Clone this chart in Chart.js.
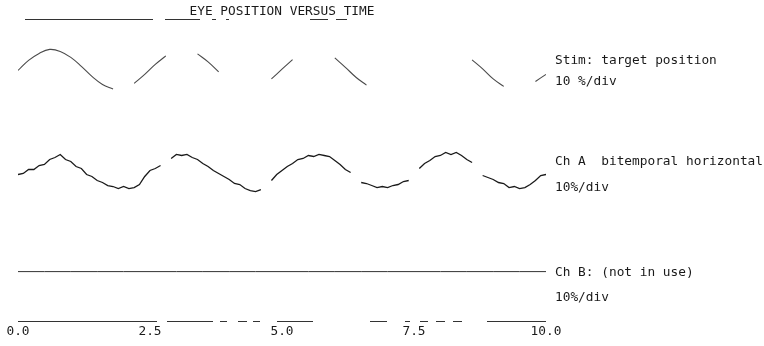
<!DOCTYPE html>
<html lang="en">
<head>
<meta charset="UTF-8">
<title>Eye position versus time</title>
<script src="https://cdn.jsdelivr.net/npm/chart.js@4"></script>
<style>
  html, body { margin: 0; padding: 0; background: #fff; }
  .wrap { width: 764px; height: 346px; position: relative; }
</style>
</head>
<body>
<div class="wrap"><canvas id="grafico"></canvas></div>
<script>
  // sampling interval of each trace (s)
  const stimStep = 0.2;
  const chAStep = 0.1;
  const chBStep = 0.5;

  // Stim: target position (deg), null = faded out on the print
  const stimValues = [
    -1, 9, 16, 20, 18, 12, 3, -7, -15, -19.5,
    null, -14, -5, 5, 13.5, null, null, 15.5, 7.5, -2.4,
    null, null, null, null, -9.5, 0.2, 9.8, null, null, null,
    11.5, 2.1, -7.8, -15.7, null, null, null, null, null, null,
    null, null, null, 9.5, 0.5, -9.5, -17, null, null, -12,
    -5
  ];

  // Ch A bitemporal horizontal (deg)
  const chAValues = [
    -3, -2, 2, 2, 6, 7, 12, 14, 17, 12,
    10, 5, 3, -3, -5, -9, -11, -14, -15, -17,
    -15, -17, -16, -13, -5, 1, 3, 6, null, 13,
    17, 16, 17, 14, 12, 8, 5, 1, -2, -5,
    -8, -12, -13, -17, -19, -20, -18, null, -9, -3,
    1, 5, 8, 12, 13, 16, 15, 17, 16, 15,
    11, 7, 2, -1, null, -11, -12, -14, -16, -15,
    -16, -14, -13, -10, -9, null, 3, 8, 11, 15,
    16, 19, 17, 19, 16, 12, 9, null, -4, -6,
    -8, -11, -12, -16, -15, -17, -16, -13, -9, -4,
    -3
  ];

  // Ch B (not in use)
  const chBValues = [0, 0, 0, 0, 0, 0, 0, 0, 0, 0, 0, 0, 0, 0, 0, 0, 0, 0, 0, 0, 0];

  const xTicks = [0, 2.5, 5, 7.5, 10];
  const xTickLabels = ['0.0', '2.5', '5.0', '7.5', '10.0'];
  const traceNames = ['Stim: target position', 'Ch A  bitemporal horizontal', 'Ch B: (not in use)'];
  const traceScales = ['10 %/div', '10%/div', '10%/div'];

  // vertical place of each trace on the page
  const traceOffsets = [202, 100, 0];
  const nameShift = [-9, -10, 1];
  const scaleShift = [12, 16, 26];

  const fuente = { family: 'DejaVu Sans Mono', size: 12.8, weight: 'normal' };
  const tinta = '#1a1a1a';

  function puntos(values, step, offset) {
    return values.map((v, i) => ({ x: +(i * step).toFixed(2), y: v === null ? null : v + offset }));
  }

  // right-hand channel captions
  const etiquetas = {
    id: 'etiquetas',
    afterDraw(chart) {
      const ctx = chart.ctx;
      const y = chart.scales.y;
      const x0 = chart.chartArea.right + 9;
      ctx.save();
      ctx.font = `${fuente.size}px "${fuente.family}"`;
      ctx.fillStyle = tinta;
      ctx.textBaseline = 'middle';
      ctx.textAlign = 'left';
      traceNames.forEach((name, i) => {
        const base = y.getPixelForValue(traceOffsets[i]);
        ctx.fillText(name, x0, base + nameShift[i]);
        ctx.fillText(traceScales[i], x0, base + scaleShift[i]);
      });
      ctx.restore();
    }
  };

  // broken top / bottom rules of the printout
  const reglas = {
    id: 'reglas',
    afterDraw(chart, args, opts) {
      const { ctx, chartArea } = chart;
      ctx.save();
      ctx.strokeStyle = opts.color;
      ctx.lineWidth = 1;
      [[chartArea.top, opts.topDash, opts.topOffset], [chartArea.bottom, opts.bottomDash, 0]].forEach(([yy, dash, off]) => {
        const py = Math.round(yy) + 0.5;
        ctx.setLineDash(dash);
        ctx.lineDashOffset = off;
        ctx.beginPath();
        ctx.moveTo(chartArea.left, py);
        ctx.lineTo(chartArea.right, py);
        ctx.stroke();
      });
      ctx.restore();
    }
  };

  new Chart(document.getElementById('grafico'), {
    type: 'line',
    data: {
      datasets: [
        {
          label: traceNames[0],
          data: puntos(stimValues, stimStep, traceOffsets[0]),
          borderColor: '#4a4a4a',
          borderWidth: 1.1,
          tension: 0.4,
          pointRadius: 0,
          spanGaps: false
        },
        {
          label: traceNames[1],
          data: puntos(chAValues, chAStep, traceOffsets[1]),
          borderColor: '#1a1a1a',
          borderWidth: 1.3,
          tension: 0,
          pointRadius: 0,
          spanGaps: false
        },
        {
          label: traceNames[2],
          data: puntos(chBValues, chBStep, traceOffsets[2]),
          borderColor: '#333',
          borderWidth: 1,
          tension: 0,
          pointRadius: 0
        }
      ]
    },
    options: {
      responsive: true,
      maintainAspectRatio: false,
      animation: false,
      layout: { padding: { left: 18, right: 218, top: 0, bottom: 4 } },
      plugins: {
        legend: { display: false },
        tooltip: { enabled: false },
        title: {
          display: true,
          text: 'EYE POSITION VERSUS TIME',
          fullSize: false,
          color: tinta,
          font: fuente,
          padding: { top: 4, bottom: 0 }
        },
        reglas: {
          color: '#333',
          topDash: [128, 12, 35, 12, 4, 10, 3, 81, 18, 8, 11, 250],
          topOffset: 565,
          bottomDash: [139, 10, 46, 7, 7, 11, 9, 6, 7, 17, 36, 57, 17, 18, 5, 10, 8, 8, 9, 8, 9, 25, 59, 10]
        }
      },
      scales: {
        x: {
          type: 'linear',
          min: 0,
          max: 10,
          afterBuildTicks: s => { s.ticks = xTicks.map(v => ({ value: v })); },
          ticks: {
            callback: (v, i) => xTickLabels[i],
            color: tinta,
            font: fuente,
            padding: 3,
            maxRotation: 0,
            autoSkip: false
          },
          grid: { display: false, drawTicks: false },
          border: { display: false }
        },
        y: { display: false, min: -49, max: 252 }
      }
    },
    plugins: [etiquetas, reglas]
  });
</script>
</body>
</html>
